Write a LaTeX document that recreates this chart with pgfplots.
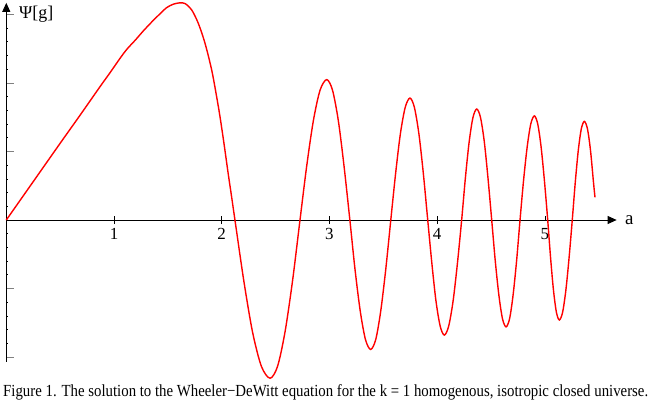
\documentclass[border=0pt]{standalone}
\usepackage{fontspec}
\setmainfont{Liberation Serif}
\usepackage{pgfplots}
\pgfplotsset{compat=1.18}
\usetikzlibrary{arrows.meta}
\newsavebox\capbox
\begin{document}
\sbox\capbox{\fontsize{17}{20}\selectfont Figure 1. The solution to the Wheeler−DeWitt equation for the k = 1 homogenous, isotropic closed universe.}%
\begin{tikzpicture}
\path[use as bounding box] (0,0) rectangle (654bp,-409bp);
\begin{axis}[
  at={(6.3bp,-220bp)}, anchor=origin,
  x=107.7bp, y=68.5bp,
  xmin=0, xmax=5.667, ymin=-2.07, ymax=3.17,
  axis lines=middle, clip=false,
  axis line style={-{Triangle[length=9bp,width=8bp]}, line width=0.8bp, black},
  xtick={1,2,3,4,5},
  ytick={-2,-1,0,1,2,3},
  yticklabels={,,,,,},
  yticklabel style={anchor=west, inner sep=0pt, xshift=12bp},
  minor y tick num=4,
  tick align=center,
  major tick length=8bp, minor tick length=2bp,
  major x tick style={black, line width=0.6bp, shorten <=4bp},
  major y tick style={gray, line width=0.9bp, xshift=4bp},
  minor y tick style={black, line width=0.8bp, xshift=1bp},
  /pgf/number format/assume math mode=true,
  xticklabel style={font=\fontsize{17}{17}\selectfont, anchor=north, yshift=-1bp},
  xlabel={a}, ylabel={}, 
  xlabel style={at={(axis cs:5.667,0)}, anchor=west, xshift=5bp, font=\fontsize{19}{19}\selectfont},
]
\addplot[red, line width=1.4bp, smooth, tension=0.5] table {
0 0
0.25 0.56
0.5 1.12
0.685 1.53
0.87 1.946
0.963 2.15
1.056 2.36
1.118 2.49
1.2 2.63
1.272 2.76
1.35 2.89
1.427 3.01
1.489 3.10
1.55 3.15
1.61 3.17
1.659 3.16
1.72 3.07
1.783 2.87
1.845 2.58
1.907 2.19
1.953 1.80
1.984 1.51
2.02 1.13
2.06 0.68
2.09 0.36
2.123 0
2.205 -0.885
2.286 -1.633
2.368 -2.134
2.449 -2.31
2.519 -2.134
2.588 -1.633
2.658 -0.885
2.727 0
2.789 0.785
2.851 1.449
2.913 1.894
2.975 2.05
3.029 1.894
3.083 1.449
3.136 0.785
3.19 0
3.238 -0.724
3.287 -1.336
3.335 -1.746
3.383 -1.89
3.430 -1.746
3.476 -1.336
3.523 -0.724
3.57 0
3.615 0.682
3.659 1.258
3.704 1.645
3.748 1.78
3.789 1.645
3.831 1.258
3.872 0.682
3.913 0
3.952 -0.643
3.990 -1.188
4.029 -1.552
4.067 -1.68
4.107 -1.552
4.148 -1.188
4.188 -0.643
4.228 0
4.263 0.620
4.298 1.145
4.333 1.497
4.368 1.62
4.403 1.497
4.438 1.145
4.472 0.620
4.507 0
4.540 -0.597
4.574 -1.103
4.607 -1.441
4.64 -1.56
4.673 -1.441
4.705 -1.103
4.738 -0.597
4.77 0
4.803 0.582
4.837 1.075
4.870 1.404
4.903 1.52
4.934 1.404
4.965 1.075
4.996 0.582
5.027 0
5.054 -0.559
5.081 -1.032
5.108 -1.349
5.135 -1.46
5.165 -1.349
5.195 -1.032
5.225 -0.559
5.255 0
5.283 0.552
5.311 1.018
5.339 1.331
5.367 1.44
5.396 1.331
5.424 1.02
5.452 0.55
5.466 0.33
};
\end{axis}
\node[anchor=west, inner sep=0, font=\fontsize{18}{18}\selectfont] at (19bp,-14bp) {Ψ[g]};
\node[anchor=base west, inner sep=0] at (3bp,-396.7bp) {\resizebox{645bp}{\ht\capbox}{\usebox\capbox}};
\end{tikzpicture}
\end{document}
